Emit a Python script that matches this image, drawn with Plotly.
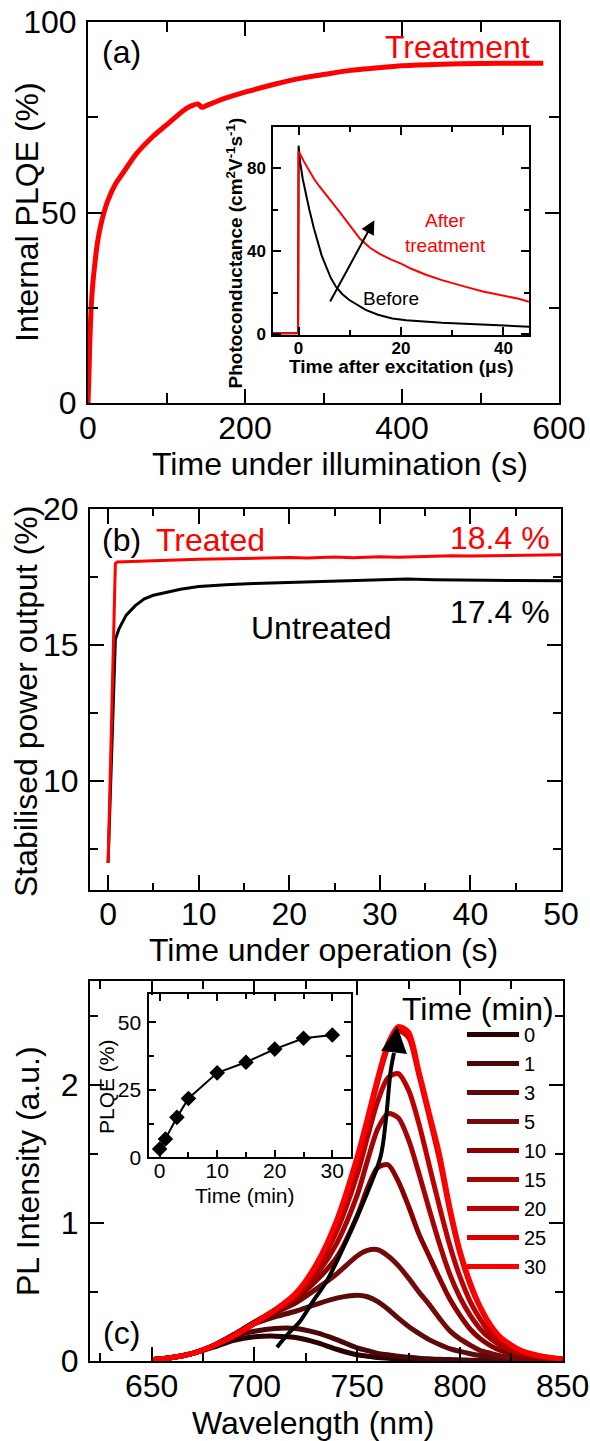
import plotly.graph_objects as go

W, H = 590, 1441
FONT = "Liberation Sans, Arial, sans-serif"

# ---------------- data: panel (a) ----------------
a_time = [0, 1, 2, 3, 4, 6, 9, 12, 15, 19, 25, 35, 45, 60, 83, 100, 126, 140,
          145, 150, 175, 202, 240, 270, 300, 334, 370, 400, 450, 500, 550, 580]
a_plqe = [0, 6, 14, 20, 25, 31, 37, 42, 45.5, 49, 53, 57.5, 60.5, 65, 70, 73,
          77.4, 78.5, 77.6, 78, 80, 81.7, 83.8, 85.2, 86.2, 87.3, 88, 88.5,
          88.9, 89.1, 89.2, 89.2]

# inset (a): photoconductance transients
ia_before_t = [-5, -0.1, 0, 0.3, 0.8, 1.5, 2.1, 3, 3.75, 4.5, 5.4, 6.3, 7.3, 8.5,
               9.9, 11.5, 13.1, 15.5, 18.3, 21, 24.8, 28, 31.3, 35, 40, 44.3, 45]
ia_before_v = [0.3, 0.3, 91, 83, 75, 66, 60, 51, 44, 38, 32.4, 27, 22.8, 19.3,
               16.4, 13.8, 11.6, 9.3, 7.5, 6.6, 5.9, 5.4, 5.1, 4.6, 4.1, 3.5, 3.5]
ia_after_t = [-5, -3, -1, -0.1, 0, 0.3, 1, 2, 3, 4, 5, 6, 8, 10, 12, 14, 16, 18,
              20, 22, 25, 28, 30, 33, 36, 40, 43, 45]
ia_after_v = [0.2, 0.3, 0.4, 0.5, 88, 87, 83.5, 79, 75, 71.5, 68.5, 65.5, 59,
              52.5, 46, 41.5, 38.5, 36, 34, 31.5, 28.5, 26, 24.5, 22.5, 20.5,
              18.5, 17, 15.5]
ia_arrow_t = [6.0, 14.8]
ia_arrow_v = [15.0, 55.0]

# ---------------- data: panel (b) ----------------
b_treated_t = [0, 0.8, 1, 5, 10, 15, 20, 22, 25, 27, 30, 32, 35, 38, 40, 43,
               45, 47, 50]
b_treated_v = [7.0, 18.0, 18.05, 18.1, 18.15, 18.18, 18.22, 18.2, 18.24, 18.21,
               18.25, 18.23, 18.26, 18.28, 18.27, 18.29, 18.28, 18.3, 18.32]
b_untreated_t = [0, 0.8, 1.2, 2, 3, 4, 5, 6.5, 8, 10, 13, 16, 20, 25, 30, 33,
                 36, 40, 45, 50]
b_untreated_v = [7.0, 15.2, 15.6, 16.1, 16.45, 16.7, 16.83, 16.95, 17.05, 17.15,
                 17.22, 17.26, 17.3, 17.34, 17.38, 17.43, 17.4, 17.38, 17.37,
                 17.36]

# ---------------- data: panel (c) ----------------
c_wl = [650, 660, 670, 680, 690, 700, 710, 720, 730, 740, 750, 755, 760, 765,
        770, 775, 780, 785, 790, 795, 800, 805, 810, 815, 820, 830, 840, 850]
c_times = [0, 1, 3, 5, 10, 15, 20, 25, 30]
pl_0 = [0.01, 0.025, 0.055, 0.10, 0.15, 0.175, 0.18, 0.17, 0.135, 0.085, 0.045,
        0.035, 0.025, 0.02, 0.015, 0.012, 0.01, 0.008, 0.007, 0.006, 0.005,
        0.004, 0.004, 0.003, 0.003, 0.002, 0.002, 0.002]
pl_1 = [0.01, 0.025, 0.055, 0.11, 0.18, 0.215, 0.235, 0.235, 0.205, 0.155,
        0.095, 0.075, 0.055, 0.045, 0.035, 0.027, 0.02, 0.016, 0.012, 0.01,
        0.008, 0.006, 0.005, 0.004, 0.004, 0.003, 0.002, 0.002]
pl_3 = [0.01, 0.025, 0.055, 0.11, 0.19, 0.27, 0.32, 0.36, 0.41, 0.455, 0.476,
        0.465, 0.43, 0.375, 0.31, 0.25, 0.20, 0.155, 0.12, 0.09, 0.07, 0.053,
        0.04, 0.03, 0.022, 0.012, 0.007, 0.004]
pl_5 = [0.01, 0.025, 0.055, 0.11, 0.19, 0.28, 0.35, 0.42, 0.52, 0.63, 0.76,
        0.80, 0.805, 0.76, 0.69, 0.60, 0.50, 0.41, 0.31, 0.22, 0.16, 0.115,
        0.075, 0.055, 0.037, 0.018, 0.009, 0.005]
pl_10 = [0.01, 0.025, 0.055, 0.11, 0.19, 0.28, 0.36, 0.45, 0.58, 0.75, 1.05,
         1.25, 1.40, 1.42, 1.30, 1.12, 0.92, 0.76, 0.60, 0.45, 0.33, 0.23,
         0.16, 0.11, 0.075, 0.035, 0.016, 0.008]
pl_15 = [0.01, 0.025, 0.055, 0.11, 0.19, 0.28, 0.36, 0.46, 0.62, 0.85, 1.20,
         1.45, 1.68, 1.79, 1.76, 1.60, 1.36, 1.10, 0.85, 0.63, 0.46, 0.33,
         0.23, 0.16, 0.11, 0.05, 0.025, 0.012]
pl_20 = [0.01, 0.025, 0.055, 0.11, 0.19, 0.28, 0.37, 0.47, 0.66, 0.94, 1.35,
         1.62, 1.88, 2.05, 2.08, 1.96, 1.72, 1.42, 1.12, 0.84, 0.61, 0.43,
         0.30, 0.20, 0.14, 0.065, 0.03, 0.014]
pl_25 = [0.01, 0.025, 0.055, 0.11, 0.18, 0.27, 0.37, 0.48, 0.69, 1.00, 1.45,
         1.73, 2.02, 2.27, 2.39, 2.34, 2.07, 1.77, 1.46, 1.09, 0.78, 0.55,
         0.38, 0.25, 0.165, 0.07, 0.033, 0.015]
pl_30 = [0.01, 0.025, 0.055, 0.11, 0.18, 0.27, 0.37, 0.49, 0.70, 1.02, 1.48,
         1.76, 2.05, 2.30, 2.42, 2.38, 2.10, 1.80, 1.50, 1.12, 0.80, 0.57,
         0.39, 0.26, 0.17, 0.075, 0.035, 0.015]
c_spectra = [pl_0, pl_1, pl_3, pl_5, pl_10, pl_15, pl_20, pl_25, pl_30]
c_colors = ['#2a0000', '#4a0808', '#5e0a0a', '#740a0a', '#8a0000', '#a40404',
            '#bc0000', '#d80000', '#ff0000']
c_arrow_wl = [711, 716, 722.3, 728, 735.4, 742, 748, 755, 761.4, 764, 766.3, 767.9]
c_arrow_int = [0.10, 0.19, 0.29, 0.42, 0.585, 0.78, 0.98, 1.22, 1.48, 1.75, 2.1, 2.23]
c_arrow_tip = [769.5, 2.42]

# inset (c): PLQE vs time
ic_time = [0, 1, 3, 5, 10, 15, 20, 25, 30]
ic_plqe = [3.1, 6.8, 14.8, 21.8, 31.3, 35.2, 40.1, 44.1, 45.3]


def px(x):
    return x / W


def py(y):
    return 1 - y / H


def axis(dom, rng, dtick, mdtick, tl, mtl, fsize, lw=2.0, tw=2.0, bold=False,
         anchor=None, horiz=True, standoff=None):
    d = dict(
        domain=[px(dom[0]), px(dom[1])] if horiz else [py(dom[1]), py(dom[0])],
        range=rng, dtick=dtick, tick0=0, ticks='inside', ticklen=tl,
        tickwidth=tw, tickcolor='black', showline=True, linecolor='black',
        linewidth=lw, mirror='ticks', showgrid=False, zeroline=False,
        automargin=False,
        tickfont=dict(family=FONT, size=fsize, color='black',
                      weight='bold' if bold else 'normal'),
        minor=dict(dtick=mdtick, ticks='inside', ticklen=mtl, tickwidth=tw,
                   tickcolor='black', showgrid=False),
        anchor=anchor, fixedrange=True,
    )
    if standoff is not None:
        d['ticklabelstandoff'] = standoff
    return d


fig = go.Figure()

# panel (a)
fig.add_trace(go.Scatter(x=a_time, y=a_plqe, mode='lines', line=dict(color='#ff0000', width=5, shape='spline', smoothing=0.6),
                         xaxis='x', yaxis='y', showlegend=False))
# inset (a)
fig.add_trace(go.Scatter(x=ia_before_t, y=ia_before_v, mode='lines', line=dict(color='black', width=2),
                         xaxis='x2', yaxis='y2', showlegend=False))
fig.add_trace(go.Scatter(x=ia_after_t, y=ia_after_v, mode='lines', line=dict(color='#ff0000', width=2),
                         xaxis='x2', yaxis='y2', showlegend=False))
# panel (b)
fig.add_trace(go.Scatter(x=b_untreated_t, y=b_untreated_v, mode='lines', line=dict(color='black', width=3),
                         xaxis='x3', yaxis='y3', showlegend=False))
fig.add_trace(go.Scatter(x=b_treated_t, y=b_treated_v, mode='lines', line=dict(color='#ff0000', width=3),
                         xaxis='x3', yaxis='y3', showlegend=False))
# panel (c)
for t, spec, col in zip(c_times, c_spectra, c_colors):
    fig.add_trace(go.Scatter(x=c_wl, y=spec, mode='lines', name=str(t),
                             line=dict(color=col, width=5, shape='spline', smoothing=0.8),
                             xaxis='x4', yaxis='y4', showlegend=True))
fig.add_trace(go.Scatter(x=c_arrow_wl, y=c_arrow_int, mode='lines',
                         line=dict(color='black', width=4, shape='spline'),
                         xaxis='x4', yaxis='y4', showlegend=False))
# inset (c)
fig.add_trace(go.Scatter(x=ic_time, y=ic_plqe, mode='lines+markers',
                         line=dict(color='black', width=2),
                         marker=dict(symbol='diamond', size=12, color='black'),
                         xaxis='x5', yaxis='y5', showlegend=False))

fig.update_layout(
    template='none',
    width=W, height=H, margin=dict(l=0, r=0, t=0, b=0, pad=0, autoexpand=False),
    paper_bgcolor='white', plot_bgcolor='rgba(0,0,0,0)',
    font=dict(family=FONT, color='black'),
    xaxis=axis((88, 559), [0, 600], 200, 100, 14, 10, 32, anchor='y', standoff=-4),
    yaxis=axis((22, 403), [0, 100], 50, 25, 14, 10, 32, anchor='x', horiz=False, standoff=3),
    xaxis2=axis((273, 529), [-5, 45], 20, 10, 8, 5, 17, lw=1.5, tw=1.5, bold=True, anchor='y2', standoff=-3),
    yaxis2=axis((127, 335), [-0.5, 100], 40, 20, 8, 5, 17, lw=1.5, tw=1.5, bold=True, anchor='x2', horiz=False, standoff=2),
    xaxis3=axis((90, 561), [-2, 50], 10, 5, 15, 7, 32, anchor='y3', standoff=-5),
    yaxis3=axis((509, 890), [6, 20], 5, 2.5, 14, 8, 32, anchor='x3', horiz=False, standoff=3),
    xaxis4=axis((90, 562.7), [620, 850], 50, 25, 14, 8, 32, anchor='y4', standoff=-4),
    yaxis4=axis((981, 1361), [0, 2.75], 1, 0.5, 14, 8, 32, anchor='x4', horiz=False, standoff=3),
    xaxis5=axis((149.3, 350.7), [-1.8, 33.2], 10, 5, 7, 5, 21, lw=2, tw=1.5, anchor='y5', standoff=-7),
    yaxis5=axis((994.3, 1157.3), [0, 60.4], 25, 12.5, 7, 5, 21, lw=2, tw=1.5, anchor='x5', horiz=False, standoff=2),
    legend=dict(x=px(462), y=py(1015), xanchor='left', yanchor='top',
                font=dict(family=FONT, size=20, color='black'),
                itemwidth=52, tracegroupgap=0, bgcolor='rgba(0,0,0,0)',
                borderwidth=0, itemclick=False, itemdoubleclick=False),
)

ann = []


def text(x, y, s, size, color='black', angle=0, bold=False):
    ann.append(dict(x=px(x), y=py(y), xref='paper', yref='paper',
                    text=('<b>%s</b>' % s) if bold else s, showarrow=False,
                    textangle=angle, xanchor='center', yanchor='middle',
                    font=dict(family=FONT, size=size, color=color)))


# panel (a)
text(121.5, 52, '(a)', 32)
text(457, 47, 'Treatment', 32, '#ff0000')
text(340, 464, 'Time under illumination (s)', 32)
text(27, 212, 'Internal PLQE (%)', 32, angle=-90)
text(445, 233, 'After<br>treatment', 19, '#ff0000')
text(391, 298, 'Before', 19)
text(401.5, 366, 'Time after excitation (μs)', 19, bold=True)
text(235, 253.5, 'Photoconductance (cm<sup>2</sup>V<sup>-1</sup>s<sup>-1</sup>)', 19, angle=-90, bold=True)
# panel (b)
text(121.5, 540, '(b)', 32)
text(210, 540, 'Treated', 32, '#ff0000')
text(500, 538, '18.4 %', 32, '#ff0000')
text(500, 612, '17.4 %', 32)
text(321.5, 628, 'Untreated', 32)
text(323, 950, 'Time under operation (s)', 32)
text(26, 702, 'Stabilised power output (%)', 32, angle=-90)
# panel (c)
text(121.5, 1333, '(c)', 32)
text(313, 1423, 'Wavelength (nm)', 32)
text(28, 1171, 'PL Intensity (a.u.)', 32, angle=-90)
text(477.5, 1009, 'Time (min)', 32)
text(106, 1087, 'PLQE (%)', 21, angle=-90)
text(245, 1195, 'Time (min)', 21)

# arrows (heads)
ann.append(dict(x=ia_arrow_t[1], y=ia_arrow_v[1], ax=ia_arrow_t[0], ay=ia_arrow_v[0],
                xref='x2', yref='y2', axref='x2', ayref='y2', text='', showarrow=True,
                arrowhead=2, arrowsize=1.4, arrowwidth=2, arrowcolor='black'))
ann.append(dict(x=c_arrow_tip[0], y=c_arrow_tip[1], ax=c_arrow_wl[-1], ay=c_arrow_int[-1],
                xref='x4', yref='y4', axref='x4', ayref='y4', text='', showarrow=True,
                arrowhead=2, arrowsize=1.3, arrowwidth=4, arrowcolor='black'))

fig.update_layout(annotations=ann)
fig.write_html("out.html")
